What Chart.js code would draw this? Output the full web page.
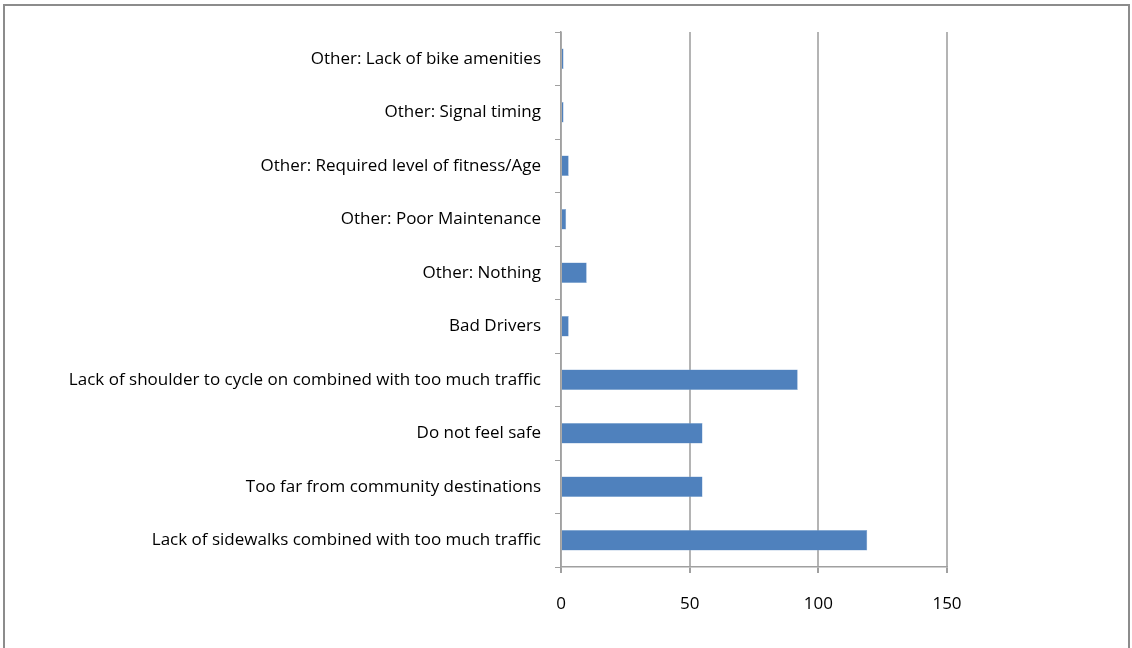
<!DOCTYPE html>
<html>
<head>
<meta charset="utf-8">
<script src="https://cdn.jsdelivr.net/npm/chart.js@4"></script>
<style>
  body { margin: 0; background: #fff; }
  #frame { position: absolute; left: 3px; top: 4px; width: 1123px; height: 660px; border: 2px solid #8c8c8c; }
  #wrap { position: absolute; left: 0; top: 0; width: 1132px; height: 648px; }
</style>
</head>
<body>
<div id="frame"></div>
<div id="wrap"><canvas id="barriers" width="1132" height="648"></canvas></div>
<script>
// Barriers to cycling - responses (bottom to top in the picture)

const categories = [
    "Lack of sidewalks combined with too much traffic",
    "Too far from community destinations",
    "Do not feel safe",
    "Lack of shoulder to cycle on combined with too much traffic",
    "Bad Drivers",
    "Other: Nothing",
    "Other: Poor Maintenance",
    "Other: Required level of fitness/Age",
    "Other: Signal timing",
    "Other: Lack of bike amenities"
];
const responses = [119, 55, 55, 92, 3, 10, 2, 3, 1, 1];
const xTicks = [0, 50, 100, 150];

const ctx = document.getElementById("barriers");

new Chart(ctx, {
    type: "bar",
    data: {
        labels: categories,
        datasets: [{
            data: responses,
            backgroundColor: "#4f81bd",
            borderColor: "#7fa3d0",
            borderWidth: 0.5,
            barPercentage: 0.38,
            categoryPercentage: 1
        }]
    },
    options: {
        indexAxis: "y",
        responsive: false,
        animation: false,
        layout: { padding: { top: 32, right: 185, left: 0, bottom: 0 } },
        plugins: { legend: { display: false }, tooltip: { enabled: false } },
        scales: {
            x: {
                min: 0,
                max: 150,
                afterBuildTicks: (scale) => { scale.ticks = xTicks.map(v => ({ value: v })); },
                afterFit: (scale) => { scale.height = 81; },
                grid: { color: "#b4b4b4", lineWidth: 2, tickLength: 6, tickColor: "#a0a0a0" },
                border: { color: "#a0a0a0", width: 1.5 },
                ticks: { color: "#000", padding: 21, font: { family: "Open Sans", size: 17 } }
            },
            y: {
                reverse: true,
                afterFit: (scale) => { scale.width = 561; },
                grid: { drawOnChartArea: false, offset: true, tickLength: 6, tickColor: "#a0a0a0" },
                border: { color: "#a0a0a0", width: 1.5 },
                ticks: { color: "#000", padding: 14, font: { family: "Open Sans", size: 17 } }
            }
        }
    }
});
</script>
</body>
</html>
